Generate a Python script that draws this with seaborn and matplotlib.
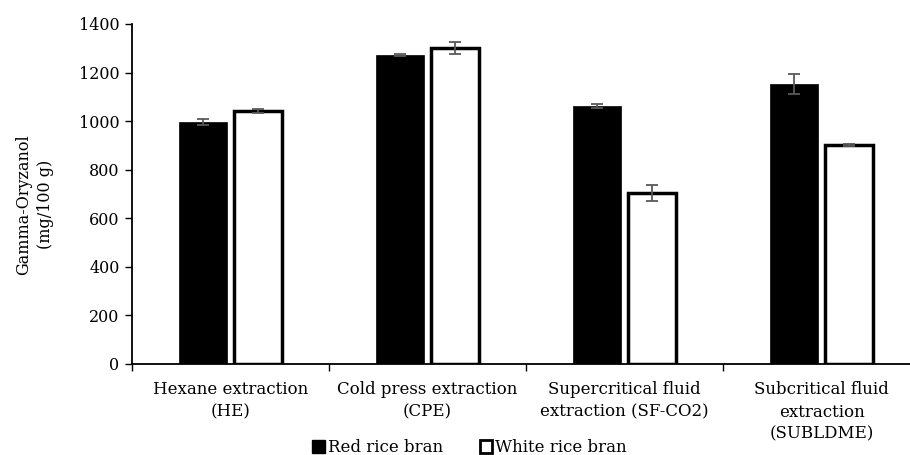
import matplotlib
matplotlib.use("Agg")
import matplotlib.pyplot as plt
import numpy as np
import pandas as pd
import seaborn as sns
from matplotlib.patches import Patch

methods = [
    "Hexane extraction\n(HE)",
    "Cold press extraction\n(CPE)",
    "Supercritical fluid\nextraction (SF-CO2)",
    "Subcritical fluid\nextraction\n(SUBLDME)",
]
groups = ["Red rice bran", "White rice bran"]
red_values = [995, 1272, 1062, 1153]
white_values = [1042, 1301, 704, 901]
red_errors = [12, 3, 8, 43]
white_errors = [10, 25, 33, 3]
y_ticks = [0, 200, 400, 600, 800, 1000, 1200, 1400]

df = pd.DataFrame({
    "method": methods * 2,
    "group": [groups[0]] * 4 + [groups[1]] * 4,
    "value": red_values + white_values,
    "err": red_errors + white_errors,
})

sns.set_style("white")
plt.rcParams["font.family"] = ["DejaVu Serif"]
plt.rcParams["text.color"] = "black"
plt.rcParams["axes.labelcolor"] = "black"
FS = 12

fig = plt.figure(figsize=(9.1, 4.55), dpi=100)
ax = fig.add_axes([132 / 910, 1 - 364 / 455, 778 / 910, 340 / 455])

sns.barplot(
    data=df, x="method", y="value", hue="group", order=methods,
    hue_order=groups, palette={groups[0]: "black", groups[1]: "white"},
    width=0.56, gap=0.143, errorbar=None, edgecolor="black", legend=False, ax=ax,
)

# style the bars and add error bars at the bar centres
for container, errs in zip(ax.containers, [red_errors, white_errors]):
    xs, ys = [], []
    for patch in container:
        xs.append(patch.get_x() + patch.get_width() / 2)
        ys.append(patch.get_height())
        if patch.get_facecolor()[0] > 0.5:
            patch.set_linewidth(2.5)
        else:
            patch.set_linewidth(0.5)
    ax.errorbar(xs, ys, yerr=errs, fmt="none", ecolor="#595959",
                elinewidth=1.3, capsize=4, capthick=1.3, zorder=5)

ax.set_xlim(-0.5, -0.5 + 778 / 197)
ax.set_ylim(0, 1400)
ax.set_yticks(y_ticks)
ax.tick_params(axis="y", labelsize=11.5, length=5, width=1, direction="out",
               left=True, colors="black", pad=4)
ax.set_xticks(range(len(methods)))
ax.set_xticklabels(methods, fontsize=FS, linespacing=1.4)
ax.tick_params(axis="x", which="major", length=0, pad=12.5, labelcolor="black")
ax.set_xticks([-0.5, 0.5, 1.5, 2.5], minor=True)
ax.tick_params(axis="x", which="minor", length=5, width=1, bottom=True,
               direction="out", color="black")

for side in ["top", "right"]:
    ax.spines[side].set_visible(False)
for side in ["left", "bottom"]:
    ax.spines[side].set_color("black")
    ax.spines[side].set_linewidth(1.3)

ax.set_xlabel("")
ax.set_ylabel("Gamma-Oryzanol\n(mg/100 g)", fontsize=11.5, linespacing=1.4)
ax.yaxis.set_label_coords(-0.1, 0.47)

handles = [
    Patch(facecolor="black", edgecolor="black", label=groups[0]),
    Patch(facecolor="white", edgecolor="black", linewidth=2, label=groups[1]),
]
fig.legend(handles=handles, loc="lower center", bbox_to_anchor=(0.516, -0.036),
           ncol=2, frameon=False, fontsize=FS, handlelength=0.75,
           handleheight=0.85, handletextpad=0.2, columnspacing=2.2)

fig.savefig("out.png", dpi=100)
